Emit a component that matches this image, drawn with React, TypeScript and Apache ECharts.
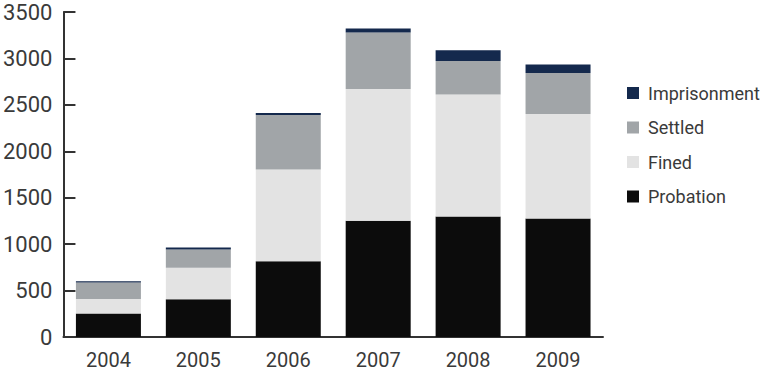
import React, { useEffect, useRef } from "react";
import * as echarts from "echarts";

const years = ["2004", "2005", "2006", "2007", "2008", "2009"];
const probation = [252, 406, 815, 1253, 1297, 1275];
const fined = [158, 341, 988, 1418, 1314, 1127];
const settled = [178, 194, 588, 607, 362, 441];
const imprisonment = [12, 22, 22, 43, 115, 91];
const yTicks = { min: 0, max: 3500, interval: 500 };

const colors = {
  probation: "#0c0c0c",
  fined: "#e3e3e3",
  settled: "#a1a5a8",
  imprisonment: "#14294d",
};

export default function App() {
  const ref = useRef<HTMLDivElement>(null);
  useEffect(() => {
    if (!ref.current) return;
    const chart = echarts.init(ref.current, undefined, { renderer: "svg" });
    const font = "Roboto, 'DejaVu Sans', sans-serif";
    const axisColor = "#333333";
    const mk = (name: string, data: number[], color: string) => ({
      name,
      type: "bar",
      stack: "total",
      data,
      barWidth: 65,
      itemStyle: { color },
      emphasis: { disabled: true },
    });
    chart.setOption({
      animation: false,
      grid: { left: 63, top: 12, width: 540, height: 325, containLabel: false },
      legend: {
        orient: "vertical",
        left: 622,
        top: 78,
        itemWidth: 12,
        itemHeight: 12,
        itemGap: 14.5,
        icon: "rect",
        data: ["Imprisonment", "Settled", "Fined", "Probation"],
        textStyle: {
          fontFamily: font,
          fontSize: 18,
          color: "#3a3a3a",
          lineHeight: 20,
          padding: [0, 0, 0, 4],
        },
        selectedMode: false,
      },
      xAxis: {
        type: "category",
        data: years,
        axisLine: { lineStyle: { color: axisColor, width: 2 } },
        axisTick: { inside: true, length: 8, lineStyle: { color: axisColor, width: 2 } },
        axisLabel: { fontFamily: font, fontSize: 20, color: "#3a3a3a", margin: 13 },
      },
      yAxis: {
        type: "value",
        min: yTicks.min,
        max: yTicks.max,
        interval: yTicks.interval,
        splitLine: { show: false },
        axisLine: { show: true, lineStyle: { color: axisColor, width: 2 } },
        axisTick: { show: true, inside: true, length: 12, lineStyle: { color: axisColor, width: 2 } },
        axisLabel: {
          fontFamily: font,
          fontSize: 22,
          color: "#3a3a3a",
          margin: 11,
          formatter: (v: number) => String(v),
        },
      },
      series: [
        mk("Probation", probation, colors.probation),
        mk("Fined", fined, colors.fined),
        mk("Settled", settled, colors.settled),
        mk("Imprisonment", imprisonment, colors.imprisonment),
      ],
    });
    return () => chart.dispose();
  }, []);
  return (
    <div
      ref={ref}
      style={{ position: "absolute", left: 0, top: 0, width: 765, height: 371, background: "#fff" }}
    />
  );
}
